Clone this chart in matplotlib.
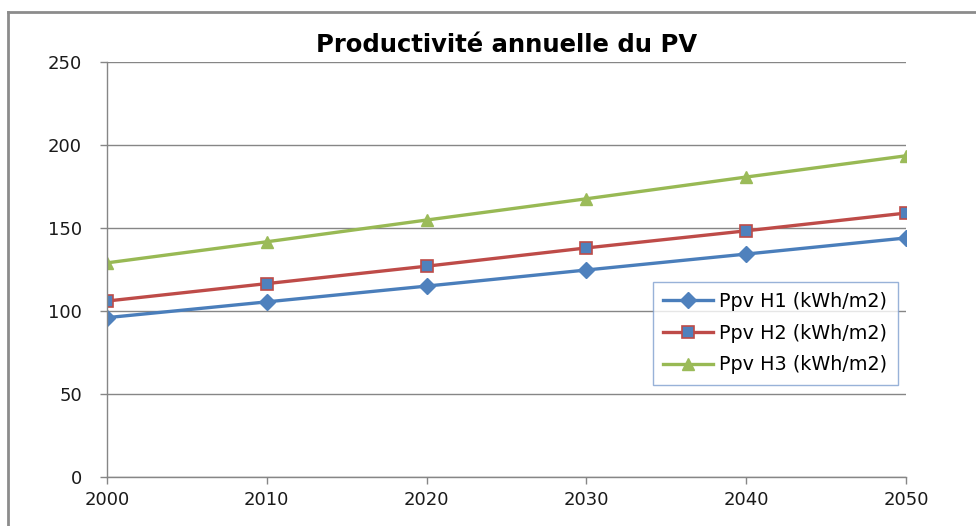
import matplotlib
matplotlib.use("Agg")
import matplotlib.pyplot as plt
from matplotlib.lines import Line2D

years = [2000, 2010, 2020, 2030, 2040, 2050]
h1 = [96, 105.5, 115, 124.7, 134.3, 144]
h2 = [106, 116.5, 127, 138, 148.3, 159]
h3 = [129, 141.7, 154.8, 167.6, 180.7, 193.5]
labels = ["Ppv H1 (kWh/m2)", "Ppv H2 (kWh/m2)", "Ppv H3 (kWh/m2)"]
yticks = [0, 50, 100, 150, 200, 250]
title = "Productivité annuelle du PV"

plt.rcParams['font.family'] = ['DejaVu Sans']

fig = plt.figure(figsize=(9.76, 5.26), dpi=100)
ax = fig.add_axes([107/976, 1-477/526, (906-107)/976, (477-62)/526])

grey = '#868686'
ax.plot(years, h1, color='#4A7EBB', lw=2.4, marker='D', ms=8.5, mfc='#4F81BD', mec='#4F81BD', label=labels[0])
ax.plot(years, h2, color='#BE4B48', lw=2.4, marker='s', ms=8, mfc='#4F81BD', mec='#BE4B48', mew=1.2, label=labels[1])
ax.plot(years, h3, color='#98B954', lw=2.4, marker='^', ms=9, mfc='#9BBB59', mec='#9BBB59', label=labels[2])

ax.set_xlim(2000, 2050)
ax.set_ylim(0, 250)
ax.set_xticks(years)
ax.set_yticks(yticks)
ax.grid(axis='y', color=grey, lw=1)
ax.set_axisbelow(True)
for s in ['top', 'right']:
    ax.spines[s].set_visible(False)
for s in ['left', 'bottom']:
    ax.spines[s].set_color(grey)
    ax.spines[s].set_linewidth(1)
ax.tick_params(axis='both', colors=grey, labelcolor='#1a1a1a', labelsize=13, length=5, width=1)
ax.tick_params(axis='y', pad=13)
ax.tick_params(axis='x', pad=5)

ax.set_title(title, fontsize=17.5, fontweight='bold', pad=7)

leg = ax.legend(loc='upper left', bbox_to_anchor=(0.683, 0.471), fontsize=13.8,
                frameon=True, fancybox=False, edgecolor='#7F9FCF', handlelength=2.6,
                labelspacing=0.66, borderpad=0.55, handletextpad=0.3, borderaxespad=0)
leg.get_frame().set_linewidth(1)

fig.add_artist(Line2D([8/976, 1], [1-11.5/526]*2, color='#8C8C8C', lw=2, transform=fig.transFigure))
fig.add_artist(Line2D([8/976]*2, [0, 1-11.5/526], color='#8C8C8C', lw=2, transform=fig.transFigure))

fig.savefig('out.png', dpi=100)
